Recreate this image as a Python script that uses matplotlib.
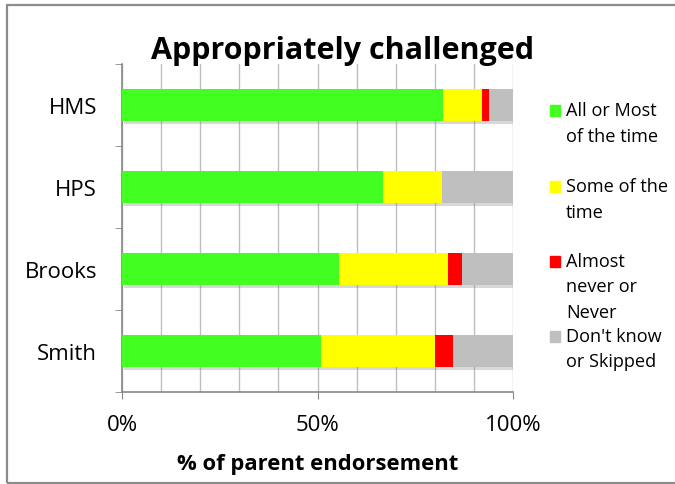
import numpy as np
import matplotlib
matplotlib.use('Agg')
import matplotlib.pyplot as plt
from matplotlib import patheffects
from matplotlib.patches import Rectangle

plt.rcParams['font.family'] = ['Open Sans', 'DejaVu Sans']

# data (percent of parents)
schools = ['HMS', 'HPS', 'Brooks', 'Smith']
all_most = [82.0, 66.7, 55.6, 51.0]
some = [10.0, 15.1, 27.8, 29.1]
never = [1.9, 0.0, 3.5, 4.5]
dont_know = [6.1, 18.2, 13.1, 15.4]

series = [all_most, some, never, dont_know]
labels = ['All or Most\nof the time', 'Some of the\ntime',
          'Almost\nnever or\nNever', "Don't know\nor Skipped"]
colors = ['#42FF21', '#FFFF00', '#FF0000', '#BFBFBF']

W, H = 675, 485
fig = plt.figure(figsize=(W / 100, H / 100), dpi=100)
ax = fig.add_axes([122 / W, 1 - 393 / H, (513 - 122) / W, (393 - 65) / H])

y = np.arange(len(schools))
left = np.zeros(len(schools))
shadow = [patheffects.SimplePatchShadow(offset=(1.5, -2), shadow_rgbFace='#808080', alpha=0.3),
          patheffects.Normal()]
for vals, col in zip(series, colors):
    ax.barh(y, vals, left=left, height=0.4, color=col, zorder=3,
            path_effects=shadow)
    left += np.array(vals)

ax.set_xlim(0, 100)
ax.set_ylim(len(schools) - 0.5, -0.5)
ax.set_xticks([0, 50, 100])
ax.set_xticklabels(['0%', '50%', '100%'])
ax.set_xticks(np.arange(0, 101, 10), minor=True)
ax.set_yticks(y)
ax.set_yticklabels(schools)
ax.set_yticks(np.arange(-0.5, len(schools), 1), minor=True)

ax.grid(True, axis='x', which='both', color='#BEBEBE', lw=1, zorder=0)
for s in ['top', 'right']:
    ax.spines[s].set_visible(False)
for s in ['left', 'bottom']:
    ax.spines[s].set_color('#878787')
    ax.spines[s].set_linewidth(1.2)

ax.tick_params(axis='x', which='major', length=5, color='#878787', labelsize=16, pad=11)
ax.tick_params(axis='x', which='minor', length=0)
ax.tick_params(axis='y', which='major', length=0, labelsize=16, pad=18)
ax.tick_params(axis='y', which='minor', length=5, color='#878787')

ax.set_xlabel('% of parent endorsement', fontsize=15.8, fontweight='bold', labelpad=13)
fig.text(343 / W, 1 - 59 / H, 'Appropriately challenged', ha='center', va='baseline',
         fontsize=22, fontweight='bold')

# legend drawn by hand so multi-line labels line up like the original
first_line = [111, 187, 262, 337]
line_h = 25.5
for lab, col, y0 in zip(labels, colors, first_line):
    fig.patches.append(Rectangle((550 / W, 1 - (y0 + 5.5) / H), 10 / W, 11 / H,
                                 transform=fig.transFigure, color=col))
    for i, line in enumerate(lab.split('\n')):
        fig.text(566 / W, 1 - (y0 + i * line_h) / H, line, ha='left', va='center',
                 fontsize=13.1)

# chart border
fig.patches.append(Rectangle((6.5 / W, 1 - 483.5 / H), 700 / W, 478 / H,
                             transform=fig.transFigure, fill=False,
                             edgecolor='#8C8C8C', lw=1.6))

fig.savefig('out.png', dpi=100)
